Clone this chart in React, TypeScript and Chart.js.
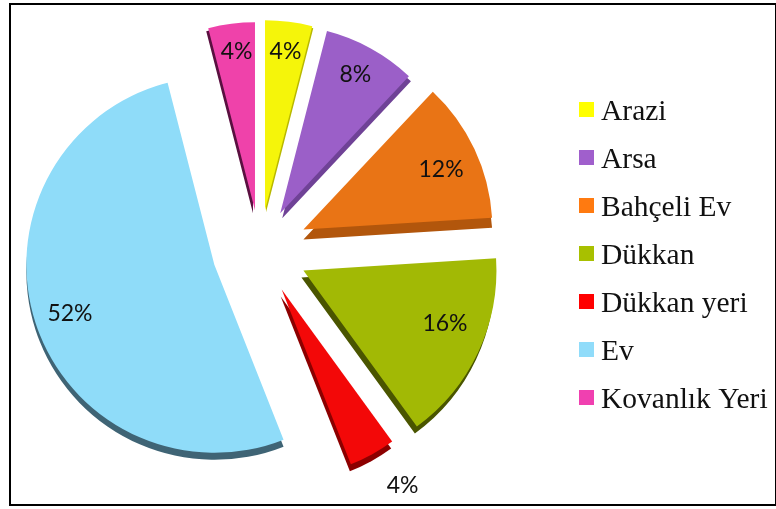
import React, { useEffect, useRef } from "react";
import { Chart, registerables } from "chart.js";

Chart.register(...registerables);

const categories = ["Arazi", "Arsa", "Bahçeli Ev", "Dükkan", "Dükkan yeri", "Ev", "Kovanlık Yeri"];
const shares = [4, 8, 12, 16, 4, 52, 4];
const sliceColors = ["#f5f50a", "#9b5fc8", "#e97415", "#a2b905", "#f30808", "#8fdcf9", "#ef42aa"];
const sideColors = ["#b8b800", "#6f4296", "#b2560c", "#4a5500", "#8c0000", "#3f6475", "#5a1040"];
const legendColors = ["#ffff00", "#a05fcc", "#ff7a10", "#a8c000", "#ff0000", "#90dcfa", "#f040b0"];
// Chart.js moves an arc by offset / 4, so these are four times the pixel gap.
const explode = [160, 168, 192, 192, 180, 192, 160];
const sliceRadius = [190, 188, 189, 193, 188, 188, 188];
const sideShift = [[1, 2], [2, 5], [0, 10], [-2, 7], [-1, 7], [0, 7], [-2, 3]];
const labelDistance = [163, 158, 151, 152, 228, 156, 163];
const labelNudge = [[0, 3], [-1, 0], [1, 4], [4, -12], [11, -4], [4, 1], [2, 3]];

const framePlugin = {
  id: "frame",
  afterDatasetUpdate(chart: any, args: any) {
    // An arc's drawn radius grows with its offset and its sweep narrows; undo both.
    chart.getDatasetMeta(args.index).data.forEach((arc: any, i: number) => {
      const shift = arc.options.offset / 4;
      const fix = 1 - Math.sin(Math.min(Math.PI, arc.circumference));
      const inset = shift * fix;
      arc.outerRadius = sliceRadius[i] - inset;
      const narrowing = inset / (Math.PI * sliceRadius[i]);
      arc.startAngle -= narrowing / 2;
      arc.endAngle += narrowing / 2;
    });
  },
  beforeDraw(chart: any) {
    const { ctx } = chart;
    ctx.save();
    ctx.fillStyle = "#ffffff";
    ctx.fillRect(0, 0, chart.width, chart.height);
    ctx.strokeStyle = "#000000";
    ctx.lineWidth = 2;
    ctx.strokeRect(10, 4, 766, 501);
    ctx.restore();
  },
  beforeDatasetDraw(chart: any, args: any) {
    const { ctx } = chart;
    args.meta.data.forEach((arc: any, i: number) => {
      const original = arc.options.backgroundColor;
      ctx.save();
      ctx.translate(sideShift[i][0], sideShift[i][1]);
      arc.options.backgroundColor = sideColors[i];
      arc.draw(ctx);
      ctx.restore();
      arc.options.backgroundColor = original;
    });
  },
  afterDatasetDraw(chart: any, args: any) {
    const { ctx } = chart;
    ctx.save();
    ctx.font = '23px Lato, "Open Sans", sans-serif';
    ctx.fillStyle = "#111111";
    ctx.textAlign = "center";
    ctx.textBaseline = "middle";
    args.meta.data.forEach((arc: any, i: number) => {
      const mid = (arc.startAngle + arc.endAngle) / 2;
      const dist = arc.options.offset / 4 + labelDistance[i];
      ctx.fillText(
        `${shares[i]}%`,
        arc.x + Math.cos(mid) * dist + labelNudge[i][0],
        arc.y + Math.sin(mid) * dist + labelNudge[i][1]
      );
    });
    ctx.restore();
  },
  afterDraw(chart: any) {
    const { ctx } = chart;
    ctx.save();
    ctx.font = '29.5px "Liberation Serif", serif';
    ctx.textAlign = "left";
    ctx.textBaseline = "alphabetic";
    categories.forEach((name, i) => {
      ctx.fillStyle = legendColors[i];
      ctx.fillRect(579, 102 + i * 48, 15, 15);
      ctx.fillStyle = "#111111";
      ctx.fillText(name, 601, 120 + i * 48);
    });
    ctx.restore();
  },
};

export default function App() {
  const ref = useRef<HTMLCanvasElement | null>(null);
  useEffect(() => {
    if (!ref.current) return;
    const chart = new Chart(ref.current, {
      type: "pie",
      data: {
        labels: categories,
        datasets: [
          {
            data: shares,
            backgroundColor: sliceColors,
            borderWidth: 0,
            offset: explode,
            radius: 190,
          } as any,
        ],
      },
      options: {
        responsive: false,
        animation: false,
        events: [],
        layout: { padding: { right: 256, bottom: 9 } },
        plugins: {
          tooltip: { enabled: false },
          legend: { display: false },
        },
      },
      plugins: [framePlugin],
    } as any);
    return () => chart.destroy();
  }, []);
  return (
    <canvas
      ref={ref}
      width={776}
      height={509}
      style={{ position: "fixed", left: 0, top: 0, display: "block" }}
    />
  );
}
